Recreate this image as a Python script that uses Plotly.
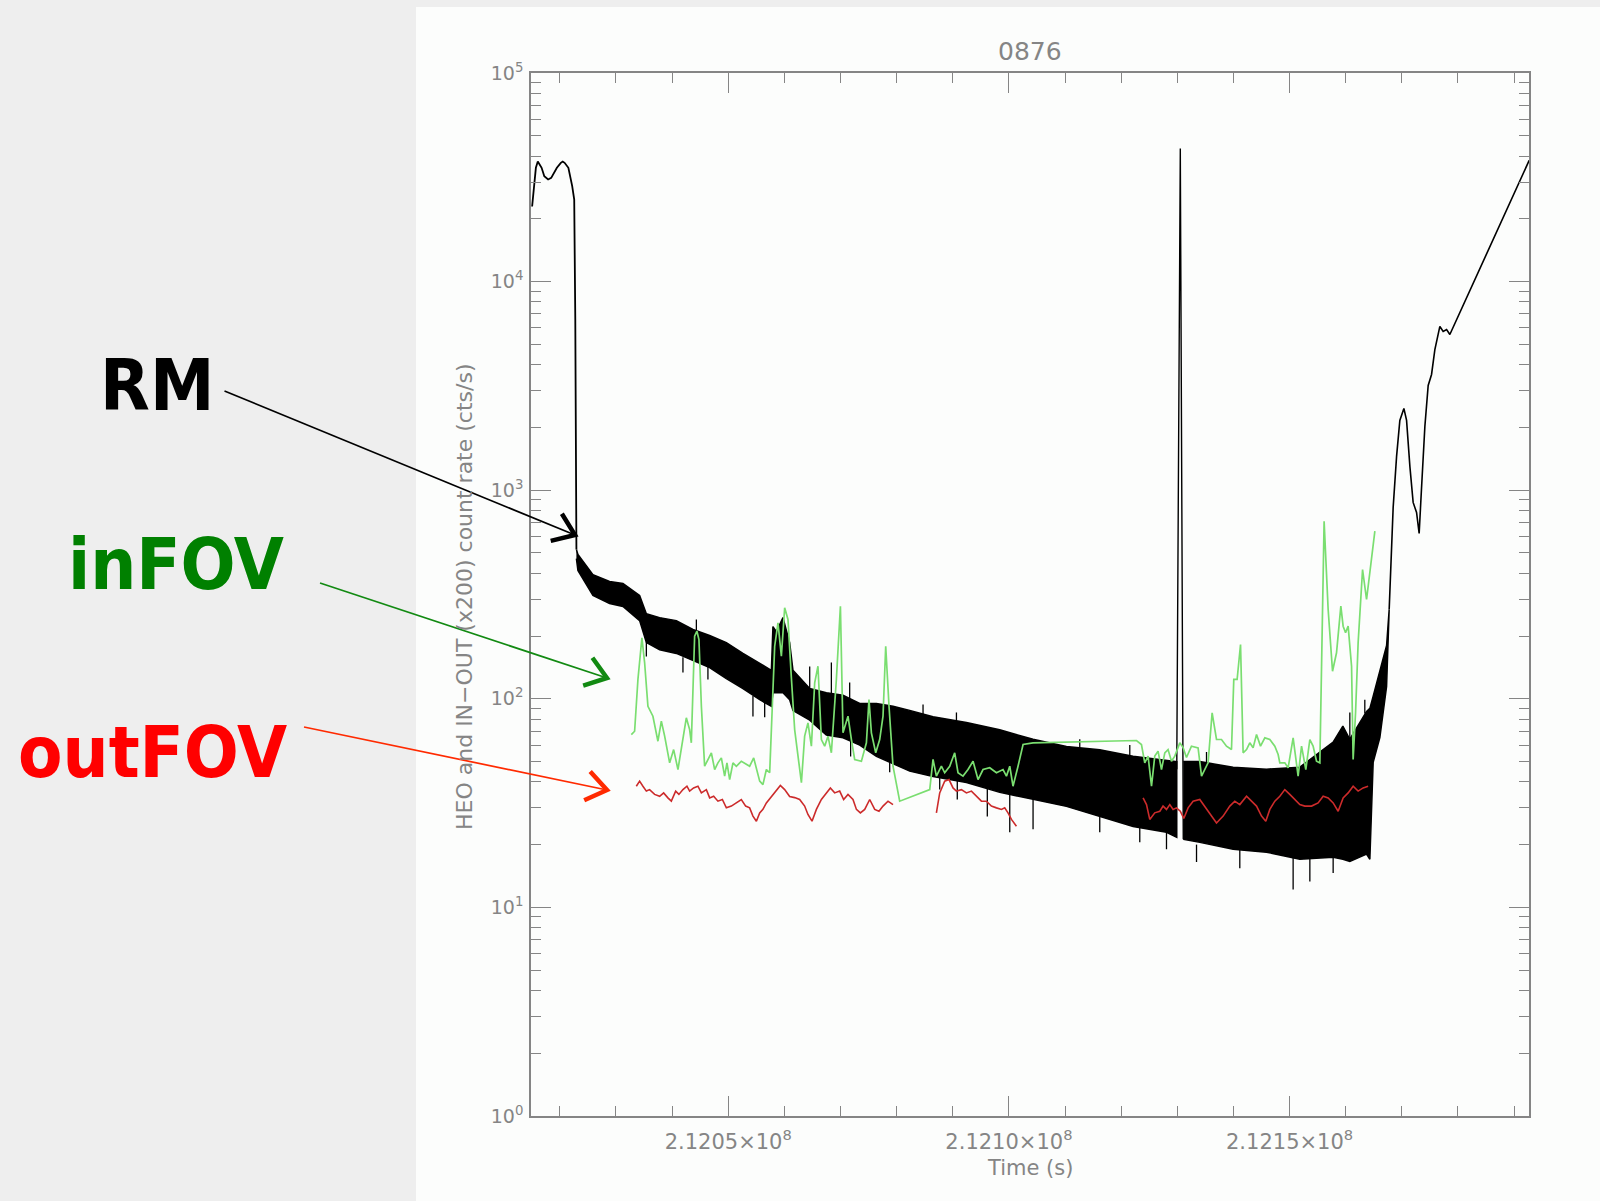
import numpy as np
import plotly.graph_objects as go

# ---------------- data (time in ks after 2.12e8 s, rates in cts/s) ----------------
T_ORIGIN = 2.12e8
KS = 1000.0

rm_start_ks = [15.06, 15.39, 15.73, 16.07, 16.75, 17.23, 17.91, 18.46, 19.47, 20.17, 20.51, 20.85,
               21.52, 22.20, 22.56, 22.75, 22.86, 22.95]
rm_start_rate = [22910, 28670, 35120, 37640, 35120, 32010, 30870, 31420, 35120, 37100, 37640, 37100,
                 35120, 28670, 24750, 6580, 560, 520]

rm_band1_ks = [22.95, 23.22, 25.89, 28.86, 31.24, 34.21, 35.41, 37.78, 40.75, 43.71, 46.68, 49.66,
               52.62, 55.60, 57.68, 57.96, 58.57, 59.75, 60.94, 61.53, 64.51, 67.48, 70.44, 73.42,
               76.39, 79.35, 82.33, 86.48, 92.43, 98.36, 104.30, 110.25, 116.18, 122.12, 128.07, 129.90]
rm_band1_hi = [520, 492, 394, 365, 357, 313, 256, 245, 237, 215, 201, 186,
               165, 148, 137, 222, 210, 245, 186, 137, 112, 107, 104, 95,
               95, 92, 88, 82, 77, 71, 64, 59, 57, 53, 51, 50]
rm_band1_lo = [470, 412, 313, 286, 277, 237, 186, 172, 165, 153, 141, 125,
               112, 99, 92, 107, 107, 107, 99, 88, 79, 67, 65, 60,
               53, 49, 45, 42.4, 39.7, 35.6, 33, 30.5, 27.3, 24.4, 22.9, 21.7]

rm_spike_ks = [129.90, 130.53, 131.06]
rm_spike_rate = [46, 43450, 21.2]

rm_band2_ks = [131.06, 134.00, 139.94, 145.89, 151.82, 157.76, 159.49, 160.73, 163.71, 164.30,
               164.89, 166.08, 167.28, 167.74]
rm_band2_hi = [50, 50, 47, 46, 47, 62, 74, 64, 87, 90, 103, 137, 180, 268]
rm_band2_lo = [21.2, 20.5, 19, 18.4, 17, 17.4, 17, 16.6, 18, 17, 49.6, 65.2, 114.5, 268]

# isolated noise excursions of the RM band: time, band edge, excursion tip
rm_noise_ks = [35.41, 41.93, 44.32, 46.38, 54.40, 56.49, 64.51, 68.37, 71.63, 71.80,
               78.76, 84.70, 87.67, 90.65, 90.80, 96.15, 100.15, 104.30, 112.62, 116.18,
               121.53, 123.31, 128.07, 133.42, 135.20, 141.13, 150.63, 153.61, 157.76, 160.73,
               163.40]
rm_noise_edge = [186, 158, 212, 142, 103, 97, 112, 106, 100, 63,
                 50, 84, 41.8, 78, 40.5, 37, 34.8, 33, 58.5, 27.3,
                 53.5, 24, 22.9, 20, 49, 18.9, 17.3, 17.1, 17.4, 64,
                 85]
rm_noise_tip = [159.5, 133.7, 240, 123.8, 82.2, 81.5, 142.8, 149.3, 119.7, 52.9,
                44.4, 93.9, 36.7, 86, 32.9, 27.3, 22.9, 23.7, 64, 22.9,
                60, 20.5, 19, 16.5, 55.6, 15.4, 12.2, 13.3, 14.6, 86,
                99]

rm_end_ks = [167.74, 168.16, 168.45, 169.06, 169.64, 170.36, 170.84, 171.43, 172.01, 172.62, 173.08,
             173.51, 174.10, 174.69, 175.29, 175.88, 176.77, 177.36, 177.97, 178.55, 192.68]
rm_end_rate = [268, 471, 827, 1452, 2160, 2466, 2160, 1300, 874, 782, 620,
               1031, 2020, 3178, 3587, 4720, 6095, 5765, 5890, 5575, 38100]

in_ks = [32.73, 33.32, 33.91, 34.62, 35.10, 35.69, 36.58, 37.47, 38.08, 38.67,
         39.56, 40.27, 41.04, 41.93, 42.53, 43.12, 43.42, 44.01, 44.42, 44.78,
         45.21, 45.79, 46.38, 46.99, 47.58, 48.16, 48.77, 49.36, 49.77, 50.25,
         50.84, 51.44, 52.33, 53.23, 53.81, 54.53, 55.01, 55.60, 56.18, 56.79,
         57.38, 57.86, 58.27, 58.86, 59.46, 60.05, 60.64, 61.24, 61.83, 63.03,
         63.61, 64.20, 64.81, 65.40, 65.98, 66.59, 67.18, 67.77, 68.37, 69.26,
         69.98, 70.44, 71.33, 71.94, 72.52, 73.72, 74.61, 75.07, 75.50, 76.27,
         76.98, 77.57, 78.05, 78.64, 79.35, 80.54, 85.89, 86.48, 87.08, 87.97,
         88.56, 89.45, 90.34, 90.93, 91.82, 92.71, 93.61, 94.50, 95.39, 96.58,
         97.78, 98.95, 99.56, 100.15, 100.73, 101.62, 102.52, 104.30, 122.72, 123.61,
         124.20, 124.79, 125.40, 125.98, 126.57, 127.18, 127.77, 128.35, 128.96, 129.55,
         130.44, 131.03, 131.63, 132.52, 133.70, 134.31, 135.48, 136.20, 136.98, 137.87,
         138.76, 139.65, 140.06, 140.65, 141.26, 141.72, 142.33, 142.91, 143.50, 144.11,
         144.82, 145.59, 146.48, 147.37, 147.96, 148.26, 149.15, 149.74, 150.63, 151.52,
         152.13, 152.89, 153.61, 154.19, 154.80, 155.39, 155.87, 156.15, 156.87, 157.65,
         158.36, 159.13, 159.54, 159.97, 160.43, 161.04, 161.32, 161.75, 162.21, 163.00,
         163.71, 164.30, 165.19]
in_rate = [67.4, 69.9, 123.8, 196.1, 149.2, 92.1, 82.5, 62.6, 78.1, 66.2,
           49.3, 57.1, 45.8, 63.8, 81.1, 71.2, 61.5, 199.6, 210.9, 192.4,
           92.1, 47.5, 51.2, 55.1, 45.8, 49.3, 52.1, 42.6, 49.3, 41.0,
           49.3, 47.5, 50.2, 48.4, 47.5, 52.1, 45.8, 40.3, 38.8, 45.8,
           44.2, 92.1, 178.7, 231.4, 160.1, 273.1, 240.0, 126.5, 71.2, 39.6,
           66.2, 76.7, 59.3, 119.3, 143.3, 63.8, 59.3, 66.2, 55.1, 123.8,
           277.9, 68.7, 82.5, 63.8, 51.2, 50.2, 61.5, 99.2, 68.7, 55.1,
           63.8, 82.5, 178.7, 92.1, 47.5, 32.3, 36.7, 51.2, 42.6, 47.5,
           44.2, 47.5, 55.1, 44.2, 42.6, 45.8, 50.2, 41.0, 45.8, 46.7,
           44.2, 45.8, 42.6, 47.5, 38.1, 47.5, 60.4, 61.5, 63.1, 60.4,
           49.3, 53.1, 38.1, 53.1, 56.1, 45.8, 55.1, 57.1, 50.2, 53.1,
           61.5, 58.4, 52.3, 59.3, 58.2, 42.6, 49.3, 85.7, 63.8, 63.8,
           59.3, 57.1, 123.8, 123.8, 182.1, 55.1, 57.1, 61.5, 58.2, 67.4,
           59.3, 65.0, 63.8, 59.3, 54.1, 49.3, 49.3, 46.7, 65.0, 42.6,
           59.3, 45.8, 63.8, 59.3, 50.2, 49.3, 207.2, 710.3, 268.0, 135.6,
           166.2, 277.9, 222.9, 207.2, 222.9, 143.3, 51.2, 85.7, 185.5, 416.7,
           299.2, 401.8, 636.0]

out_seg1_ks = [33.62, 34.21, 34.80, 35.41, 35.99, 36.88, 37.78, 38.49, 39.25, 39.86,
               40.63, 41.21, 41.93, 42.64, 43.12, 43.83, 44.60, 45.21, 46.10, 46.69,
               47.40, 48.16, 48.95, 49.66, 50.55, 51.44, 52.33, 53.10, 53.81, 54.40,
               55.01, 55.60, 56.18, 56.79, 57.68, 58.57, 59.28, 60.05, 60.94, 61.83,
               62.72, 63.61, 64.20, 64.92, 65.70, 66.59, 67.48, 68.19, 68.96, 69.85,
               70.56, 71.33, 72.22, 72.83, 73.54, 74.31, 75.20, 76.09, 76.85, 77.57,
               78.46, 79.35]
out_seg1_rate = [38.1, 40.3, 38.1, 36.1, 36.7, 34.8, 34.1, 35.4, 33.5, 32.3,
                 36.1, 34.8, 36.7, 38.1, 36.1, 37.4, 38.1, 35.4, 36.7, 33.5,
                 34.1, 32.3, 32.9, 30.0, 30.6, 31.7, 32.9, 30.6, 30.0, 27.4,
                 25.9, 28.4, 29.5, 31.7, 34.1, 36.7, 38.4, 36.7, 34.0, 33.6,
                 32.9, 30.6, 27.9, 25.9, 29.5, 32.9, 35.4, 37.4, 35.4, 36.1,
                 32.9, 34.8, 32.9, 29.5, 28.4, 29.5, 32.9, 29.5, 28.9, 30.6,
                 32.3, 31.1]
out_seg2_ks = [87.08, 87.67, 88.56, 89.33, 90.04, 90.65, 91.54, 92.43, 93.32, 94.21,
               95.10, 95.99, 96.88, 97.78, 98.67, 99.25, 99.84, 100.45, 101.34]
out_seg2_rate = [28.4, 35.4, 40.3, 41.0, 37.4, 36.1, 36.7, 35.4, 36.1, 34.1,
                 32.3, 32.3, 30.6, 30.0, 29.5, 30.0, 28.4, 26.4, 24.5]
out_seg3_ks = [123.90, 124.51, 125.09, 125.98, 126.88, 127.46, 128.07, 128.66, 129.25, 129.85,
               130.53, 131.15, 131.92, 132.81, 134.00, 135.20, 136.09, 136.98, 138.16, 139.35,
               140.24, 141.13, 142.33, 143.22, 144.11, 145.00, 145.76, 146.48, 147.37, 148.26,
               149.15, 150.04, 150.93, 151.82, 152.71, 153.91, 155.08, 155.98, 156.87, 157.76,
               158.65, 159.54, 160.43, 161.32, 162.21, 163.10, 163.99]
out_seg3_rate = [33.5, 31.1, 26.4, 28.4, 28.9, 30.6, 29.5, 31.1, 29.5, 30.0,
                 28.9, 26.7, 30.0, 32.3, 32.9, 29.5, 27.4, 25.4, 27.4, 30.6,
                 32.3, 31.1, 34.1, 32.3, 30.6, 27.4, 25.9, 29.5, 32.3, 34.1,
                 36.7, 34.8, 32.9, 31.1, 30.6, 30.6, 31.7, 34.1, 33.5, 31.7,
                 28.9, 33.5, 35.4, 38.1, 36.1, 37.4, 38.1]

x_major_vals = [2.1205e8, 2.1210e8, 2.1215e8]
x_major_text = ["2.1205×10<sup>8</sup>", "2.1210×10<sup>8</sup>", "2.1215×10<sup>8</sup>"]
y_major_vals = [1, 10, 100, 1000, 10000, 100000]
y_major_text = ["10<sup>0</sup>", "10<sup>1</sup>", "10<sup>2</sup>", "10<sup>3</sup>",
                "10<sup>4</sup>", "10<sup>5</sup>"]
x_range_ks = [14.86, 192.65]


def tt(ks):
    return [T_ORIGIN + KS * k for k in ks]


# ---------------- geometry helpers ----------------
W, H = 1600, 1201
ML, MR, MT, MB = 531, 71, 73, 85
PW, PH = W - ML - MR, H - MT - MB


def px(X):
    return (X - ML) / PW


def py(Y):
    return (H - MB - Y) / PH


GREY = "#858585"
FONT = "DejaVu Sans"

fig = go.Figure()

# RM (black)
fig.add_trace(go.Scatter(x=tt(rm_start_ks), y=rm_start_rate, mode="lines",
                         line=dict(color="black", width=1.8), hoverinfo="skip"))
for bks, bhi, blo in [(rm_band1_ks, rm_band1_hi, rm_band1_lo),
                      (rm_band2_ks, rm_band2_hi, rm_band2_lo)]:
    fig.add_trace(go.Scatter(x=tt(bks) + tt(bks)[::-1], y=list(bhi) + list(blo)[::-1],
                             mode="lines", fill="toself", fillcolor="black",
                             line=dict(color="black", width=1.5), hoverinfo="skip"))
nx, ny = [], []
for k, e, tip in zip(rm_noise_ks, rm_noise_edge, rm_noise_tip):
    nx += [T_ORIGIN + KS * k, T_ORIGIN + KS * k, None]
    ny += [e, tip, None]
fig.add_trace(go.Scatter(x=nx, y=ny, mode="lines", connectgaps=False,
                         line=dict(color="black", width=1.3), hoverinfo="skip"))
fig.add_trace(go.Scatter(x=tt(rm_spike_ks), y=rm_spike_rate, mode="lines",
                         line=dict(color="black", width=1.4), hoverinfo="skip"))
fig.add_trace(go.Scatter(x=tt(rm_end_ks), y=rm_end_rate, mode="lines",
                         line=dict(color="black", width=1.6), hoverinfo="skip"))

# inFOV (green)
fig.add_trace(go.Scatter(x=tt(in_ks), y=in_rate, mode="lines",
                         line=dict(color="#7ade70", width=1.7), hoverinfo="skip"))

# outFOV (red), with data gaps
ox = tt(out_seg1_ks) + [None] + tt(out_seg2_ks) + [None] + tt(out_seg3_ks)
oy = out_seg1_rate + [None] + out_seg2_rate + [None] + out_seg3_rate
fig.add_trace(go.Scatter(x=ox, y=oy, mode="lines", connectgaps=False,
                         line=dict(color="#cc2b2b", width=1.6), hoverinfo="skip"))

# ---------------- axes ----------------
x_minor = [v for v in np.arange(2.1202e8, 2.12195e8, 1e4) if all(abs(v - m) > 1 for m in x_major_vals)]
y_minor = [k * 10 ** n for n in range(0, 5) for k in range(2, 10)]

axis_common = dict(showline=True, linecolor=GREY, linewidth=1.5, mirror="ticks",
                   ticks="inside", ticklen=20, tickwidth=1.4, tickcolor=GREY,
                   showgrid=False, zeroline=False)

fig.update_xaxes(range=[T_ORIGIN + KS * x_range_ks[0], T_ORIGIN + KS * x_range_ks[1]],
                 tickmode="array", tickvals=x_major_vals, ticktext=x_major_text,
                 tickfont=dict(family=FONT, size=21, color=GREY), ticklabelstandoff=6,
                 minor=dict(tickmode="array", tickvals=x_minor, ticks="inside", ticklen=10,
                            tickwidth=1.4, tickcolor=GREY, showgrid=False),
                 **axis_common)
fig.update_yaxes(type="log", range=[0, 5], tickmode="array", tickvals=y_major_vals,
                 ticktext=y_major_text, tickfont=dict(family=FONT, size=19, color=GREY),
                 ticklabelstandoff=2,
                 minor=dict(tickmode="array", tickvals=y_minor, ticks="inside", ticklen=10,
                            tickwidth=1.4, tickcolor=GREY, showgrid=False),
                 **axis_common)

# ---------------- background panel ----------------
shapes = [dict(type="rect", xref="paper", yref="paper", layer="below",
               x0=px(416), x1=px(1605), y0=py(1206), y1=py(7),
               fillcolor="#fcfdfc", line=dict(width=0))]


# ---------------- arrows ----------------
def arrow(tail, head, color, shaft_w, head_w, arm=25, ang=36):
    tx, ty = tail
    hx, hy = head
    d = np.array([hx - tx, hy - ty], dtype=float)
    u = d / np.linalg.norm(d)
    pts = []
    for s in (1, -1):
        a = np.radians(s * ang)
        rx = -u[0] * np.cos(a) + u[1] * np.sin(a)
        ry = -u[0] * np.sin(a) - u[1] * np.cos(a)
        pts.append((hx + arm * rx, hy + arm * ry))
    out = [dict(type="line", xref="paper", yref="paper", x0=px(tx), y0=py(ty),
                x1=px(hx), y1=py(hy), line=dict(color=color, width=shaft_w))]
    path = "M {:.5f},{:.5f} L {:.5f},{:.5f} L {:.5f},{:.5f}".format(
        px(pts[0][0]), py(pts[0][1]), px(hx), py(hy), px(pts[1][0]), py(pts[1][1]))
    out.append(dict(type="path", xref="paper", yref="paper", path=path,
                    line=dict(color=color, width=head_w)))
    return out


shapes += arrow((224.5, 391), (575, 535), "black", 1.7, 4.5)
shapes += arrow((320, 583), (607, 678), "#128a12", 1.7, 4.5)
shapes += arrow((304, 727), (607, 790), "#ff2a00", 1.7, 4.5)

# ---------------- text ----------------
annotations = [
    dict(text="0876", xref="paper", yref="paper", x=px(1030), y=py(52), showarrow=False,
         font=dict(family=FONT, size=25, color=GREY), xanchor="center", yanchor="middle"),
    dict(text="Time (s)", xref="paper", yref="paper", x=px(1030), y=py(1168), showarrow=False,
         font=dict(family=FONT, size=21, color=GREY), xanchor="center", yanchor="middle"),
    dict(text="HEO and IN−OUT (x200) count rate (cts/s)", xref="paper", yref="paper",
         x=px(464), y=py(597), showarrow=False, textangle=-90,
         font=dict(family=FONT, size=22, color=GREY), xanchor="center", yanchor="middle"),
    dict(text="<b>RM</b>", xref="paper", yref="paper", x=px(156.5), y=py(385), showarrow=False,
         font=dict(family="DejaVu Sans Condensed", size=72, color="black"),
         xanchor="center", yanchor="middle"),
    dict(text="<b>inFOV</b>", xref="paper", yref="paper", x=px(176), y=py(564), showarrow=False,
         font=dict(family="DejaVu Sans Condensed", size=72, color="#008000"),
         xanchor="center", yanchor="middle"),
    dict(text="<b>outFOV</b>", xref="paper", yref="paper", x=px(152.5), y=py(751.5), showarrow=False,
         font=dict(family="DejaVu Sans Condensed", size=72, color="#ff0000"),
         xanchor="center", yanchor="middle"),
]

fig.update_layout(width=W, height=H, margin=dict(l=ML, r=MR, t=MT, b=MB, pad=0),
                  paper_bgcolor="#eeeeee", plot_bgcolor="#fcfdfc", showlegend=False,
                  shapes=shapes, annotations=annotations)

fig.write_html("out.html")
